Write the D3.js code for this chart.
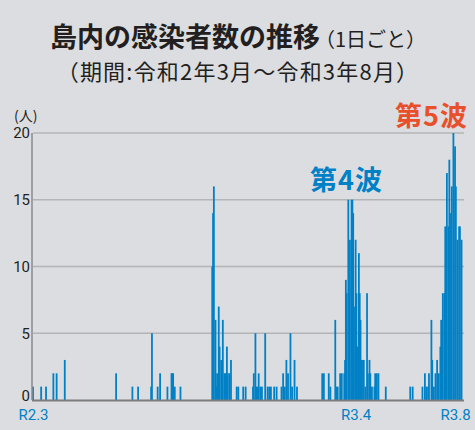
<!DOCTYPE html>
<html>
<head>
<meta charset="utf-8">
<script src="https://cdn.jsdelivr.net/npm/d3@7"></script>
<style>
    body { margin: 0; background: #dcdde0; }
    svg { display: block; font-family: "Noto Sans CJK JP", "Noto Sans", sans-serif; }
</style>
</head>
<body>
<div id="chart"></div>
<script>
// days counted from 2020-03-01, cases per day
const startDate = '2020-03-01';
const days = [
    0, 10, 16, 25, 29, 39, 102, 122, 129, 145, 146, 153, 156, 165, 170, 171, 172, 174, 181,
    220, 221, 222, 224, 225, 226, 228, 229, 231, 232, 233, 235, 236, 238, 239, 241, 243,
    250, 252, 258, 261, 270, 271, 273, 274, 276, 277, 279, 281, 285, 288, 290, 292, 296, 299,
    305, 307, 309, 311, 313, 316, 318, 321, 324,
    355, 357, 363, 365, 371, 372, 374, 377, 379, 382, 383, 384, 385, 387, 388, 389, 391, 392,
    393, 394, 396, 397, 398, 400, 401, 402, 403, 405, 406, 408, 410, 411, 413, 414, 416, 419,
    420, 422, 424, 433,
    463, 466, 478, 481, 483, 485, 486, 489, 490, 492, 494, 496, 498, 500, 501, 503, 505, 506,
    508, 510, 511, 513, 514, 516, 518, 519, 521, 523, 524, 526
];
const cases = [
    1, 1, 1, 2, 2, 3, 2, 1, 1, 1, 5, 1, 2, 1, 2, 2, 2, 1, 1,
    10, 14, 16, 6, 1, 2, 7, 4, 3, 2, 6, 2, 2, 4, 2, 2, 3,
    1, 1, 1, 1, 1, 2, 5, 1, 1, 2, 1, 1, 5, 1, 1, 1, 1, 1,
    1, 2, 1, 3, 2, 5, 1, 3, 1,
    2, 2, 2, 1, 6, 1, 1, 2, 2, 2, 3, 9, 8, 15, 8, 12, 15, 15,
    14, 7, 12, 8, 4, 11, 8, 6, 3, 3, 3, 1, 8, 2, 3, 2, 1, 1,
    2, 2, 2, 1,
    1, 1, 1, 2, 1, 1, 2, 6, 3, 1, 2, 3, 2, 4, 6, 8, 8, 13,
    17, 13, 18, 14, 16, 20, 19, 16, 12, 13, 13, 12
];
const yTicks = [0, 5, 10, 15, 20];
const tickDates = ['2020-03-01', '2021-04-01', '2021-08-01'];
const tickLabels = ['R2.3', 'R3.4', 'R3.8'];

const wSvg = 475, hSvg = 430;
const plotLeft = 33, plotRight = 464, plotTop = 133, plotBottom = 400;
const blue = '#0081c6', red = '#e8502c', ink = '#231f20';

const parse = d3.utcParse('%Y-%m-%d');
const start = parse(startDate);
const data = days.map((d, i) => ({ date: d3.utcDay.offset(start, d), value: cases[i] }));

const x = d3.scaleUtc()
    .domain([start, d3.utcDay.offset(start, 529)])
    .range([plotLeft, plotRight]);

const y = d3.scaleLinear()
    .domain([0, 20])
    .range([plotBottom, plotTop]);

const svg = d3.select('#chart').append('svg')
    .attr('width', wSvg)
    .attr('height', hSvg);

svg.append('rect')
    .attr('width', wSvg)
    .attr('height', hSvg)
    .attr('fill', '#dcdde0');

// title
const title = svg.append('text')
    .attr('x', 50)
    .attr('y', 47)
    .attr('fill', ink);
title.append('tspan')
    .attr('font-size', 27)
    .attr('font-weight', 700)
    .text('島内の感染者数の推移');
title.append('tspan')
    .attr('dx', -5)
    .attr('font-size', 20)
    .text('（1日ごと）');

svg.append('text')
    .attr('x', 238)
    .attr('y', 80)
    .attr('text-anchor', 'middle')
    .attr('font-size', 22)
    .attr('letter-spacing', 1.2)
    .attr('fill', ink)
    .text('（期間:令和2年3月～令和3年8月）');

// grid
svg.append('g')
    .selectAll('line')
    .data(yTicks.slice(1))
    .enter()
    .append('line')
    .attr('x1', plotLeft)
    .attr('x2', plotRight)
    .attr('y1', d => y(d))
    .attr('y2', d => y(d))
    .attr('stroke', '#b3b4b6')
    .attr('stroke-width', 1.5);

const yAxis = svg.append('g')
    .attr('transform', `translate(${plotLeft - 3},0)`)
    .call(d3.axisLeft(y).tickValues(yTicks).tickSize(0).tickPadding(0));
yAxis.select('.domain').remove();
yAxis.selectAll('text')
    .attr('font-family', 'Roboto, sans-serif')
    .attr('font-size', 15)
    .attr('dy', d => d === 0 ? '0.05em' : '0.32em')
    .attr('fill', ink);

svg.append('text')
    .attr('x', 14)
    .attr('y', 121)
    .attr('font-size', 14)
    .attr('fill', ink)
    .text('(人)');

// bars
svg.append('g')
    .selectAll('.bar')
    .data(data)
    .enter()
    .append('rect')
    .attr('class', 'bar')
    .attr('x', d => x(d.date) - 0.9)
    .attr('width', 1.8)
    .attr('y', d => y(d.value))
    .attr('height', d => y(0) - y(d.value))
    .attr('fill', blue);

// axes lines
svg.append('line')
    .attr('x1', plotLeft - 1).attr('x2', plotLeft - 1)
    .attr('y1', plotTop).attr('y2', plotBottom)
    .attr('stroke', '#8a8a8c')
    .attr('stroke-width', 1.5);
svg.append('line')
    .attr('x1', plotLeft - 1).attr('x2', plotRight)
    .attr('y1', plotBottom + 0.5).attr('y2', plotBottom + 0.5)
    .attr('stroke', '#7c7c7e')
    .attr('stroke-width', 1.8);

const xAxis = svg.append('g')
    .attr('transform', `translate(0,${plotBottom + 9})`)
    .call(d3.axisBottom(x)
        .tickValues(tickDates.map(parse))
        .tickFormat((d, i) => tickLabels[i])
        .tickSize(0)
        .tickPadding(0));
xAxis.select('.domain').remove();
xAxis.selectAll('text')
    .attr('font-family', 'Roboto, sans-serif')
    .attr('font-size', 15)
    .attr('fill', blue);

// wave labels
svg.append('text')
    .attr('x', 310)
    .attr('y', 190)
    .attr('font-size', 27)
    .attr('font-weight', 700)
    .attr('letter-spacing', 1)
    .attr('fill', blue)
    .text('第4波');
svg.append('text')
    .attr('x', 395)
    .attr('y', 126)
    .attr('font-size', 27)
    .attr('font-weight', 700)
    .attr('letter-spacing', 1)
    .attr('fill', red)
    .text('第5波');
</script>
</body>
</html>
